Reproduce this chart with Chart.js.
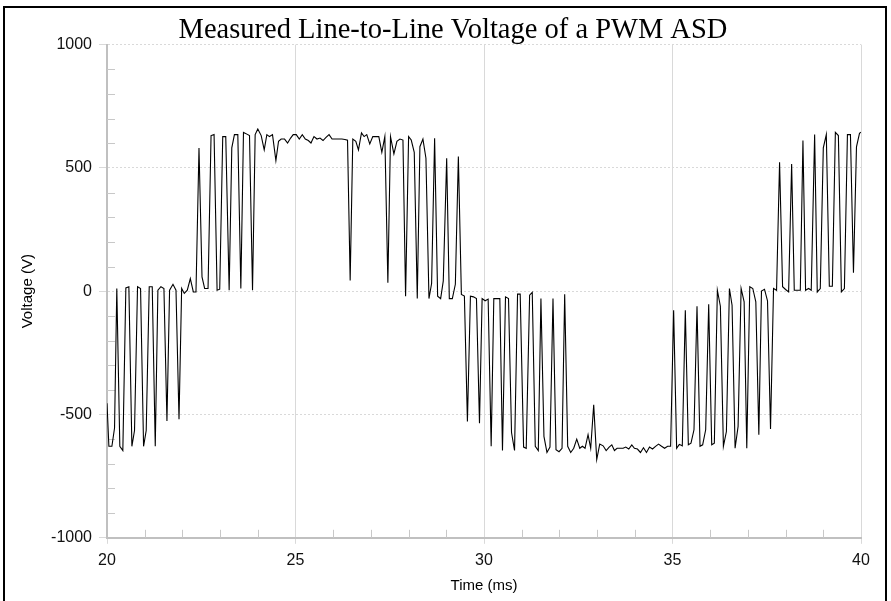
<!DOCTYPE html>
<html>
<head>
<meta charset="utf-8">
<title>Measured Line-to-Line Voltage of a PWM ASD</title>
<script src="https://cdn.jsdelivr.net/npm/chart.js@4.4.1/dist/chart.umd.min.js"></script>
<style>
  html, body { margin: 0; padding: 0; background: #fff; overflow: hidden; }
  #frame { position: absolute; left: 3px; top: 6px; width: 880px; height: 700px; border: 2px solid #000; }
  #chart { position: absolute; left: 0; top: 0; }
</style>
</head>
<body>
<div id="frame"></div>
<canvas id="chart" width="891" height="601"></canvas>
<script>
// Sample times (ms)
const timeMs = [
  20.00, 20.05, 20.13, 20.20, 20.26, 20.34, 20.42, 20.50, 20.58, 20.66,
  20.73, 20.81, 20.89, 20.97, 21.04, 21.12, 21.20, 21.28, 21.35, 21.43,
  21.51, 21.59, 21.66, 21.75, 21.83, 21.91, 21.98, 22.05, 22.13, 22.21,
  22.29, 22.36, 22.44, 22.52, 22.59, 22.68, 22.76, 22.84, 22.92, 22.99,
  23.07, 23.15, 23.24, 23.31, 23.38, 23.47, 23.55, 23.62, 23.71, 23.78,
  23.86, 23.93, 24.00, 24.09, 24.17, 24.24, 24.31, 24.39, 24.48, 24.55,
  24.62, 24.71, 24.79, 24.87, 24.94, 25.02, 25.10, 25.18, 25.26, 25.34,
  25.41, 25.49, 25.57, 25.65, 25.73, 25.81, 25.89, 25.97, 26.05, 26.14,
  26.23, 26.31, 26.38, 26.45, 26.52, 26.60, 26.67, 26.75, 26.82, 26.89,
  26.97, 27.05, 27.13, 27.21, 27.29, 27.37, 27.45, 27.52, 27.61, 27.69,
  27.77, 27.85, 27.92, 28.00, 28.07, 28.15, 28.23, 28.30, 28.38, 28.46,
  28.54, 28.61, 28.69, 28.77, 28.85, 28.92, 29.01, 29.08, 29.16, 29.24,
  29.32, 29.40, 29.48, 29.56, 29.64, 29.72, 29.80, 29.88, 29.95, 30.03,
  30.11, 30.19, 30.26, 30.34, 30.42, 30.49, 30.57, 30.65, 30.73, 30.81,
  30.89, 30.96, 31.05, 31.12, 31.21, 31.28, 31.36, 31.44, 31.51, 31.59,
  31.67, 31.75, 31.83, 31.91, 31.99, 32.07, 32.14, 32.22, 32.30, 32.38,
  32.46, 32.54, 32.61, 32.68, 32.76, 32.83, 32.91, 32.99, 33.07, 33.16,
  33.24, 33.32, 33.39, 33.46, 33.53, 33.62, 33.69, 33.76, 33.84, 33.92,
  33.99, 34.07, 34.15, 34.23, 34.31, 34.39, 34.47, 34.55, 34.63, 34.71,
  34.79, 34.87, 34.95, 35.03, 35.11, 35.18, 35.26, 35.34, 35.42, 35.49,
  35.57, 35.65, 35.73, 35.80, 35.88, 35.96, 36.04, 36.11, 36.19, 36.27,
  36.35, 36.43, 36.51, 36.58, 36.66, 36.74, 36.82, 36.90, 36.97, 37.05,
  37.13, 37.21, 37.29, 37.36, 37.44, 37.52, 37.60, 37.68, 37.76, 37.84,
  37.92, 38.00, 38.08, 38.16, 38.23, 38.31, 38.39, 38.46, 38.53, 38.61,
  38.68, 38.77, 38.84, 38.92, 39.00, 39.08, 39.16, 39.24, 39.32, 39.40,
  39.48, 39.56, 39.64, 39.72, 39.80, 39.88, 39.96, 40.00
];

// Line-to-line voltage (V) at each sample
const voltage = [
  -454, -629, -629, -555,   11, -629, -646,   13,   18, -629,
  -565,   18,   11, -629, -565,   18,   18, -629,    4,   18,
    11, -526,    4,   28,    4, -519,   11,   -9,    4,   51,
    -3,   -3,  581,   58,   11,   11,  631,  635,    4,    8,
   627,  627,    4,  581,  635,  635,   11,  644,  637,  631,
     4,  635,  658,  631,  573,  635,  627,  635,  530,  608,
   617,  617,  601,  621,  635,  635,  617,  635,  617,  611,
   601,  627,  617,  621,  611,  624,  635,  617,  617,  617,
   617,  615,  612,   43,  617,  608,  573,  642,  627,  635,
   597,  627,  627,  627,  563,  627,   34,  627,  557,  608,
   617,  613,  -20,  627,  613,  563,  -30,  586,  617,  539,
   -30,   31,  620,  -20,  -30,   42,  539,  -30,  -30,   28,
   546,  -13,  -20, -528,  -20,  -23,  -30, -535,  -30,  -39,
   -32, -629,  -30,  -30,  -30, -646,  -23,  -30, -573, -646,
   -12,  -12, -632, -637,  -16,   -5, -629, -646,  -30, -589,
  -654, -632,  -30, -643, -651, -637,  -12, -629, -654, -637,
  -600, -637, -629, -637, -582, -637, -461, -683, -620, -627,
  -646, -632, -623, -646, -637, -637, -637, -632, -640, -623,
  -637, -640, -654, -635, -654, -632, -640, -629, -620, -629,
  -637, -629, -629,  -77, -637, -621, -627,  -77, -623, -616,
  -562,  -61, -629, -623, -562,  -53, -623, -616,    4,  -61,
  -629, -569,   11,  -57, -637, -548,   11,  -43, -637,   18,
    11,  -43, -582,    1,    8,  -39, -559,   11,    4,  523,
    18,    7,   -3,  516,    4,    4,    4,  611,    4,   11,
     4,  635,   -3,   11,  581,  635,   20,   20,  644,  631,
    -3,   11,  635,  635,   75,  585,  640,  645
];

// Axis ranges and tick steps
const xMin = 20, xMax = 40, xMajor = 5, xMinor = 1;
const yMin = -1000, yMax = 1000, yMajor = 500, yMinor = 100;

const points = timeMs.map((t, i) => ({ x: t, y: voltage[i] }));

// short minor tick marks on the inside of the axes
const minorTicks = {
  id: 'minorTicks',
  beforeDatasetsDraw(chart) {
    const { ctx, chartArea: a, scales: { x, y } } = chart;
    ctx.save();
    ctx.strokeStyle = '#c8c8c8';
    ctx.lineWidth = 1;
    ctx.beginPath();
    for (let v = yMin + yMinor; v < yMax; v += yMinor) {
      if (v % yMajor === 0) continue;
      const py = Math.round(y.getPixelForValue(v)) + 0.5;
      ctx.moveTo(a.left, py);
      ctx.lineTo(a.left + 8, py);
    }
    for (let v = xMin + xMinor; v < xMax; v += xMinor) {
      if (v % xMajor === 0) continue;
      const px = Math.round(x.getPixelForValue(v)) + 0.5;
      ctx.moveTo(px, a.bottom);
      ctx.lineTo(px, a.bottom - 8);
    }
    ctx.stroke();
    ctx.restore();
  }
};

const tickFont = { family: "'Liberation Sans', Arial, sans-serif", size: 16 };
const axisTitleFont = { family: "'Liberation Sans', Arial, sans-serif", size: 15 };

new Chart(document.getElementById('chart'), {
  type: 'line',
  data: {
    datasets: [{
      data: points,
      borderColor: '#000',
      borderWidth: 1.1,
      pointRadius: 0,
      tension: 0,
      fill: false
    }]
  },
  plugins: [minorTicks],
  options: {
    responsive: false,
    animation: false,
    events: [],
    layout: { padding: { left: 45, right: 30, top: 4, bottom: 6 } },
    plugins: {
      legend: { display: false },
      tooltip: { enabled: false },
      title: {
        display: true,
        text: 'Measured Line-to-Line Voltage of a PWM ASD',
        color: '#000',
        font: { family: "'Liberation Serif', 'Times New Roman', serif", size: 28.5, weight: 'normal' },
        padding: { top: 9, bottom: -2.6 }
      }
    },
    scales: {
      x: {
        type: 'linear',
        min: xMin,
        max: xMax,
        ticks: { stepSize: xMajor, color: '#111', font: tickFont, padding: 7, maxRotation: 0,
                 callback: v => String(v) },
        grid: { color: '#d9d9d9', lineWidth: 1, tickLength: 6, tickColor: '#d9d9d9' },
        border: { color: '#c0c0c0', width: 2 },
        title: { display: true, text: 'Time (ms)', color: '#000', font: axisTitleFont, padding: { top: 0, bottom: 0 } }
      },
      y: {
        min: yMin,
        max: yMax,
        ticks: { stepSize: yMajor, color: '#111', font: tickFont, padding: 7,
                 callback: v => String(v) },
        grid: { color: '#d9d9d9', lineWidth: 1, tickLength: 8, tickColor: '#d9d9d9' },
        border: { color: '#c0c0c0', width: 2, dash: [2, 2] },
        title: { display: true, text: 'Voltage (V)', color: '#000', font: axisTitleFont, padding: { top: -26, bottom: 0 } },
        afterFit(scale) { scale.width = 62; }
      }
    }
  }
});
</script>
</body>
</html>
